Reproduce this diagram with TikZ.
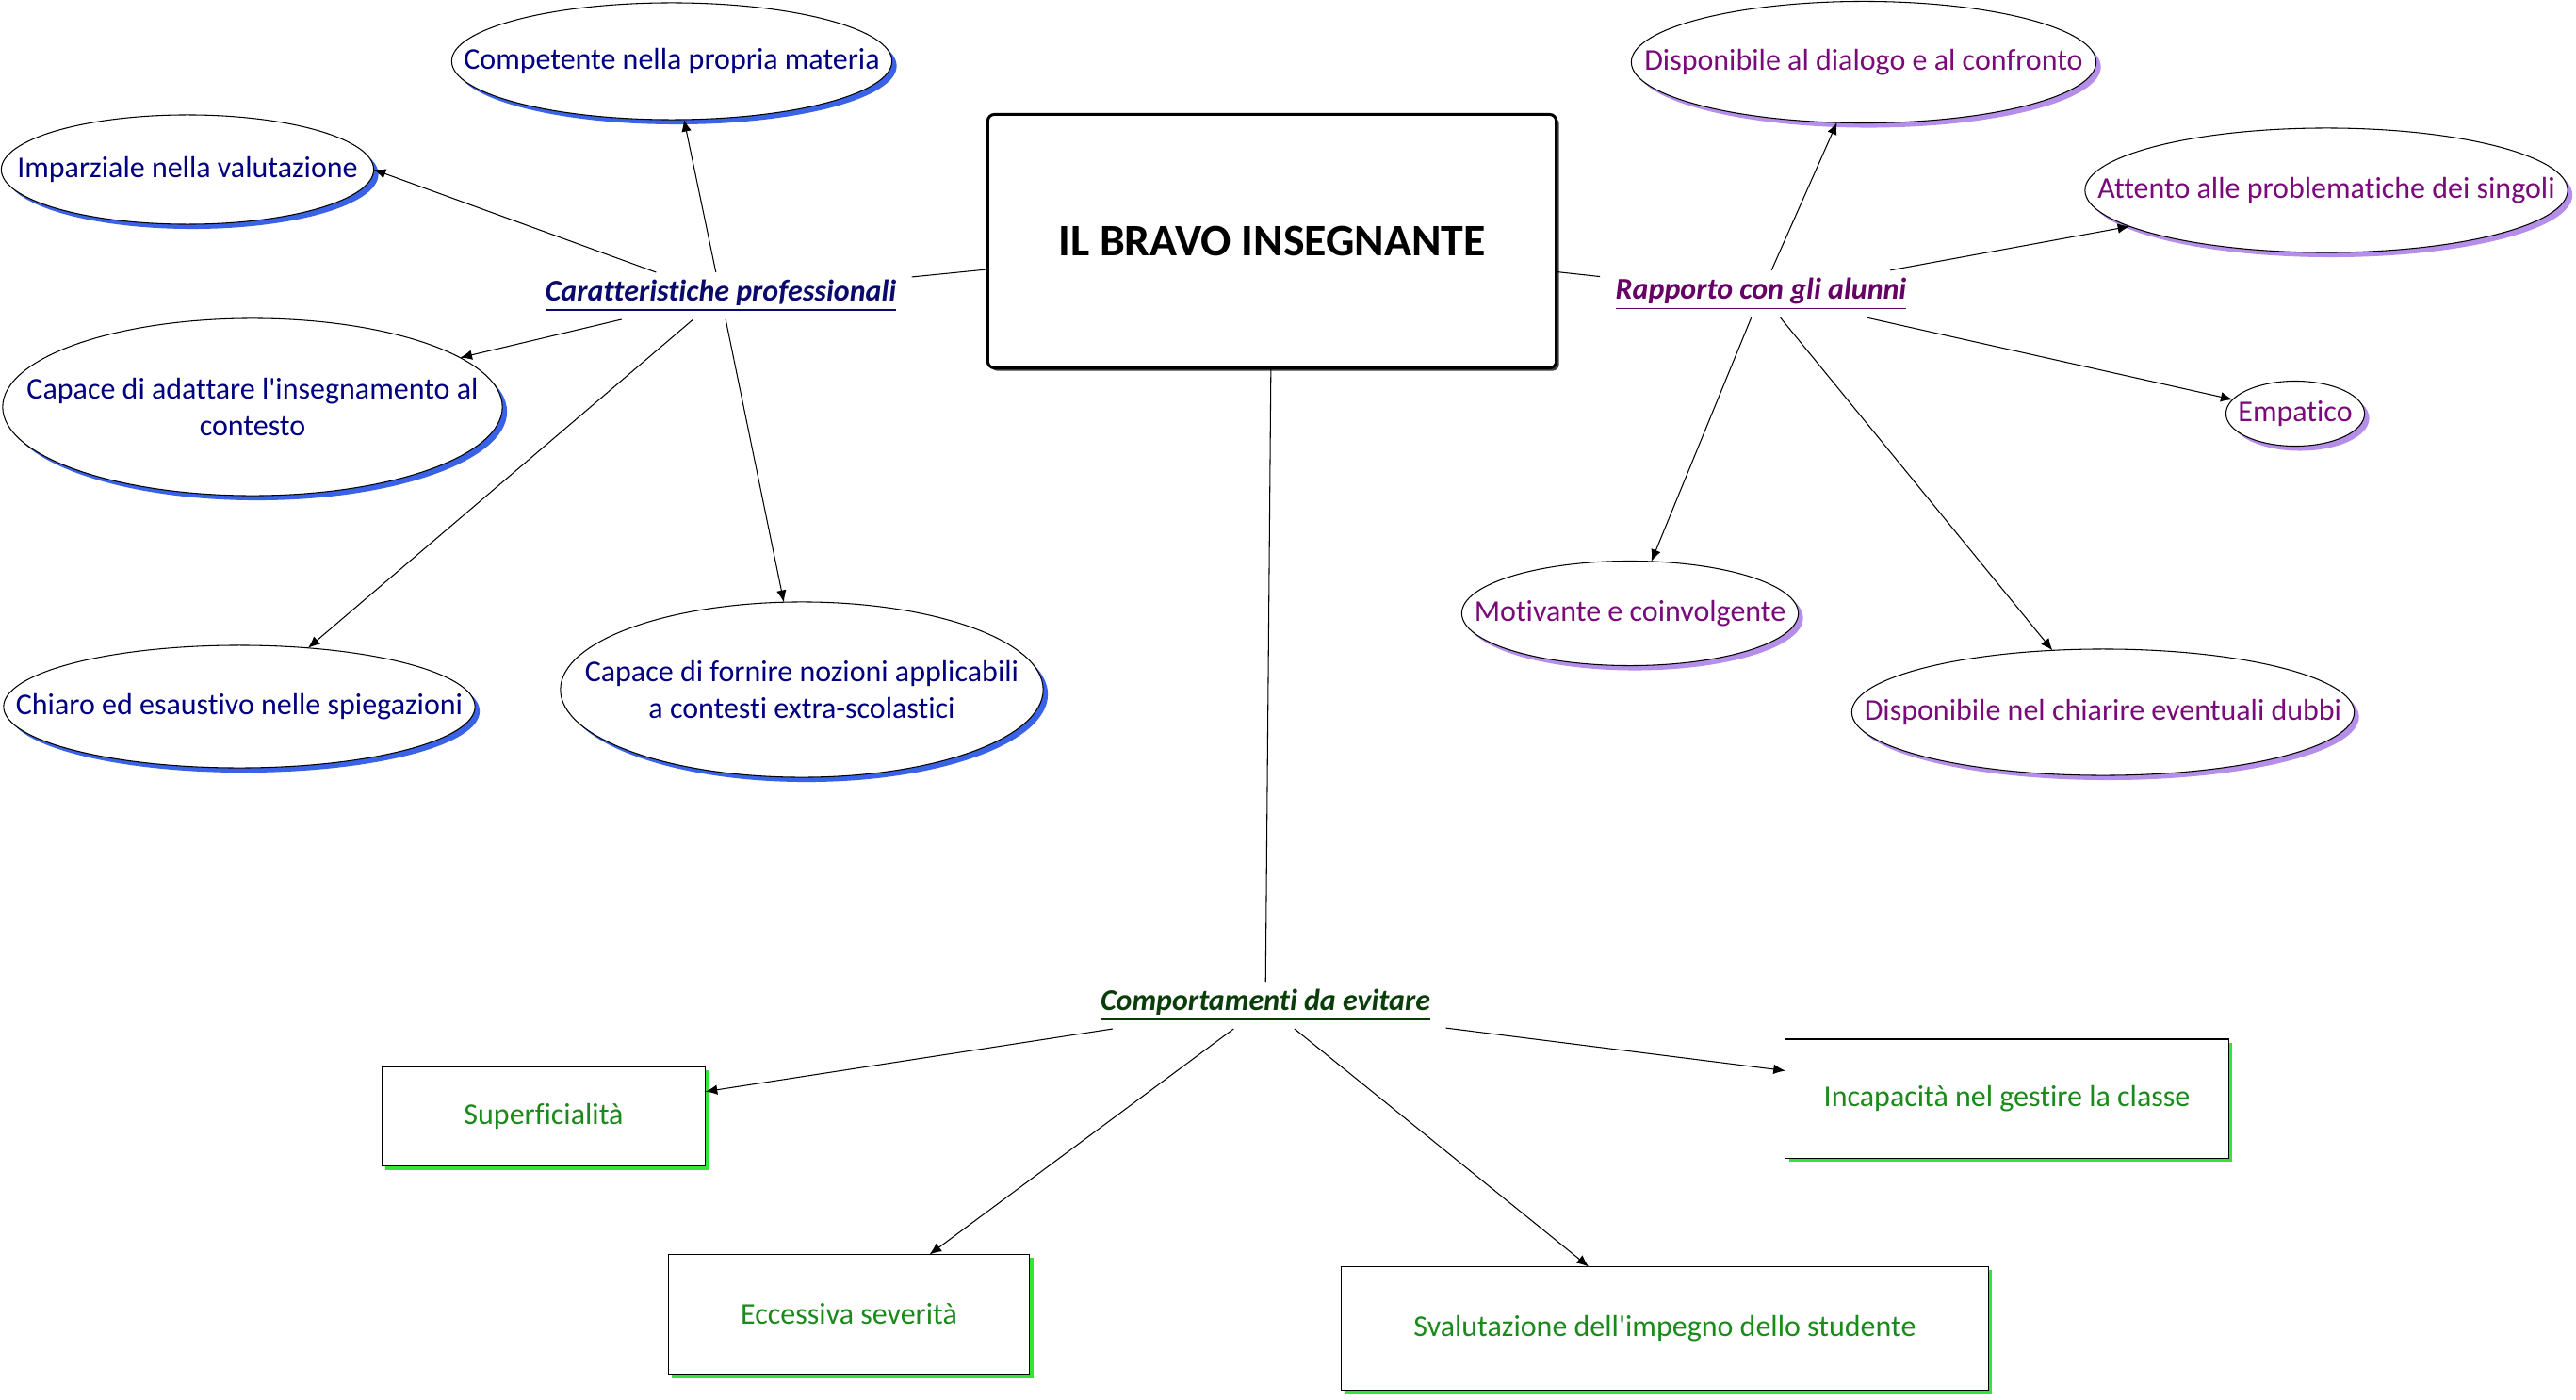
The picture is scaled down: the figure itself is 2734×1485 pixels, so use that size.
\documentclass[tikz,border=0pt]{standalone}
\usepackage{fontspec}
\setmainfont{Carlito}[Ligatures={TeXOff,NoCommon}]
\usetikzlibrary{shapes.geometric,shadows,arrows.meta}

\definecolor{navytext}{HTML}{000080}
\definecolor{navylab}{HTML}{0A0A6E}
\definecolor{blueshade}{HTML}{3A62E6}
\definecolor{purpletext}{HTML}{7A0A7A}
\definecolor{purplelab}{HTML}{660066}
\definecolor{lilacshade}{HTML}{B48EE8}
\definecolor{greentext}{HTML}{1A8A1A}
\definecolor{greenlab}{HTML}{0A3D0A}
\definecolor{greenshade}{HTML}{33E633}

\begin{document}
\begin{tikzpicture}[x=0.01cm,y=-0.01cm,
        every node/.style={font=\fontsize{9.1}{11}\selectfont},
        title/.style={draw, line width=0.85pt, rounded corners=2pt, fill=white, minimum width=6.03cm, minimum height=2.69cm,
            font=\bfseries\fontsize{13.6}{16}\selectfont,
            drop shadow={shadow xshift=0.03cm, shadow yshift=-0.03cm, fill=black!75, opacity=1}},
        catlab/.style={inner xsep=4.5pt, inner ysep=2pt, font=\bfseries\itshape\fontsize{9.1}{11}\selectfont},
        oval/.style={ellipse, draw, line width=0.3pt, fill=white, inner sep=0pt, outer sep=0pt},
        profoval/.style={oval, drop shadow={shadow xshift=0.05cm, shadow yshift=-0.05cm, fill=blueshade, opacity=1}},
        rappoval/.style={oval, drop shadow={shadow xshift=0.05cm, shadow yshift=-0.05cm, fill=lilacshade, opacity=1}},
        badbox/.style={draw, line width=0.3pt, fill=white, outer sep=0pt, text=greentext,
            drop shadow={shadow xshift=0.04cm, shadow yshift=-0.04cm, fill=greenshade, opacity=1}},
        proftext/.style={text=navytext, align=center},
        rapptext/.style={text=purpletext, align=center},
        link/.style={line width=0.3pt},
        arr/.style={line width=0.3pt, -{Latex[length=3.6pt,width=3pt]}}]
        \useasboundingbox (0,0) rectangle (2734,1485);

        \node[title] (bravo) at (1350,256) {IL BRAVO INSEGNANTE};
        \node[catlab, text=navylab] (prof) at (765,314) {\underline{Caratteristiche professionali}};
        \node[catlab, text=purplelab] (rapp) at (1869,312) {\underline{Rapporto con gli alunni}};
        \node[catlab, text=greenlab] (evit) at (1343,1067) {\underline{Comportamenti da evitare}};

        \node[profoval, minimum width=4.67cm, minimum height=1.24cm, label={[proftext]center:Competente nella propria materia}] (compet) at (713,65) {};
        \node[profoval, minimum width=3.95cm, minimum height=1.16cm, label={[proftext]center:Imparziale nella valutazione}] (impar) at (199,180) {};
        \node[profoval, minimum width=5.30cm, minimum height=1.88cm, label={[proftext]center:Capace di adattare l'insegnamento al\\contesto}] (adatt) at (268,432) {};
        \node[profoval, minimum width=5.00cm, minimum height=1.30cm, label={[proftext]center:Chiaro ed esaustivo nelle spiegazioni}] (chiaro) at (254,750) {};
        \node[profoval, minimum width=5.12cm, minimum height=1.86cm, label={[proftext]center:Capace di fornire nozioni applicabili\\a contesti extra-scolastici}] (fornire) at (851,732) {};

        \node[rappoval, minimum width=4.93cm, minimum height=1.29cm, label={[rapptext]center:Disponibile al dialogo e al confronto}] (dialogo) at (1978,66) {};
        \node[rappoval, minimum width=5.12cm, minimum height=1.32cm, label={[rapptext]center:Attento alle problematiche dei singoli}] (attento) at (2469,202) {};
        \node[rappoval, minimum width=1.47cm, minimum height=0.69cm, label={[rapptext]center:Empatico}] (empat) at (2436,439) {};
        \node[rappoval, minimum width=3.57cm, minimum height=1.11cm, label={[rapptext]center:Motivante e coinvolgente}] (motiv) at (1730,651) {};
        \node[rappoval, minimum width=5.33cm, minimum height=1.34cm, label={[rapptext]center:Disponibile nel chiarire eventuali dubbi}] (dubbi) at (2232,756) {};

        \node[badbox, minimum width=3.43cm, minimum height=1.05cm] (superf) at (577,1185) {Superficialità};
        \node[badbox, minimum width=3.83cm, minimum height=1.27cm] (sever) at (901,1395) {Eccessiva severità};
        \node[badbox, minimum width=4.70cm, minimum height=1.26cm] (classe) at (2130,1166) {Incapacità nel gestire la classe};
        \node[badbox, minimum width=6.86cm, minimum height=1.31cm] (sval) at (1767,1410) {Svalutazione dell'impegno dello studente};

        \draw[link] (bravo) -- (prof);
        \draw[link] (bravo) -- (rapp);
        \draw[link] (bravo) -- (evit);

        \draw[arr] (prof) -- (compet);
        \draw[arr] (prof) -- (impar.east);
        \draw[arr] (prof) -- (adatt);
        \draw[arr] (prof) -- (chiaro);
        \draw[arr] (prof) -- (fornire);

        \draw[arr] (rapp) -- (dialogo);
        \draw[arr] (rapp) -- (attento);
        \draw[arr] (rapp) -- (empat);
        \draw[arr] (rapp) -- (motiv);
        \draw[arr] (rapp) -- (dubbi);

        \draw[arr] (evit) -- (superf);
        \draw[arr] (evit) -- (sever);
        \draw[arr] (evit) -- (classe);
        \draw[arr] (evit) -- (sval);
\end{tikzpicture}
\end{document}
